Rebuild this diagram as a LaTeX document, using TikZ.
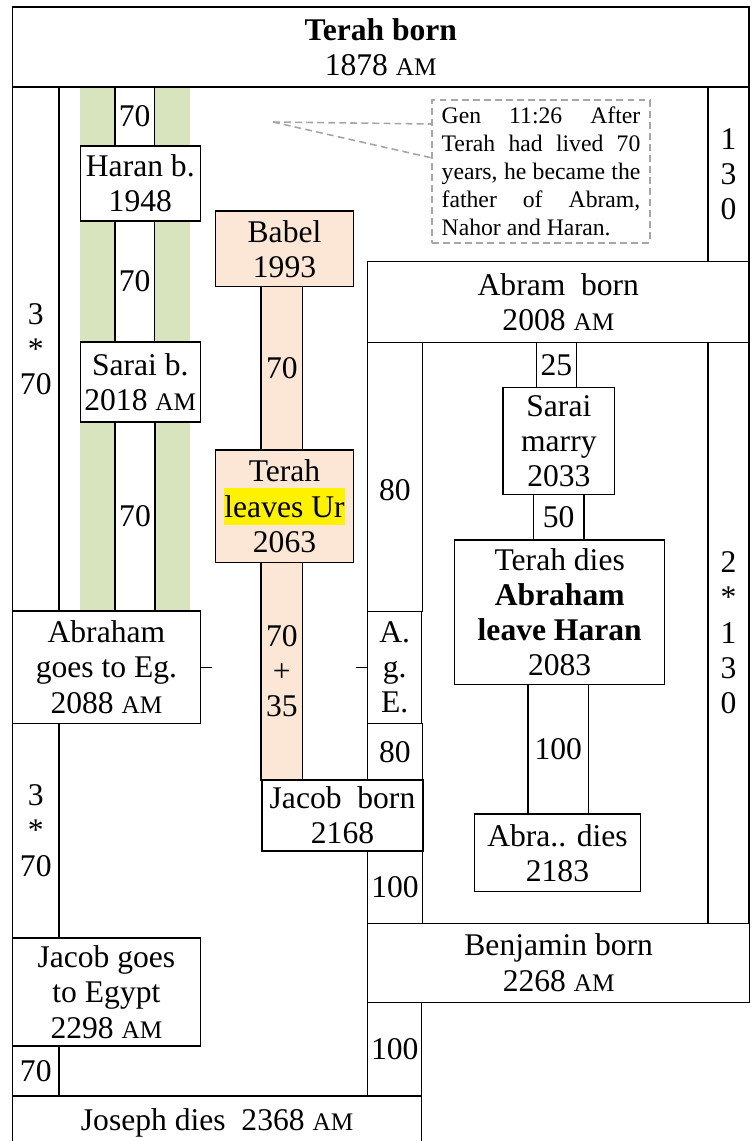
\documentclass[tikz,border=0pt]{standalone}
\usepackage{fontspec}
\setmainfont{Liberation Serif}
\usetikzlibrary{calc}
\definecolor{greenc}{HTML}{D7E4BD}
\definecolor{peachc}{HTML}{FCE6D6}
\definecolor{callgray}{HTML}{A6A6A6}
\newcommand\mainsz{\fontsize{12}{13.4}\selectfont}
\newcommand\notesz{\fontsize{9}{10.6}\selectfont}
\newcommand\smAM{{\fontsize{9.6}{10}\selectfont AM}}
\newcommand\hlt[1]{{\setlength\fboxsep{0pt}\smash{\colorbox{yellow}{\rule[-3pt]{0pt}{14pt}#1}}}}
\newcommand\cell[7]{\node[#6, minimum width={(#4-#2)*0.38pt}, minimum height={(#5-#3)*0.38pt}] (#1) at ({(#2+#4)/2},{(#3+#5)/2}) {#7};}
\tikzset{
  cellbox/.style={draw=black, line width=0.5pt, inner sep=0pt, outer sep=0pt, align=center, font=\mainsz},
  wcell/.style={cellbox, fill=white},
  pcell/.style={cellbox, fill=peachc},
  callline/.style={draw=callgray, dash pattern=on 2.6pt off 1.6pt, line width=0.6pt},
  annot/.style={callline, fill=white, text width=75.5pt, align=justify, inner xsep=3.6pt, inner ysep=0pt, outer sep=0pt, font=\notesz},
  tick/.style={draw=black, line width=0.5pt}
}
\begin{document}
\begin{tikzpicture}[x=0.38pt, y=-0.38pt]
\useasboundingbox (0,0) rectangle (756,1141);
% green band
\fill[greenc] (80,87) rectangle (190,611);
% top
\cell{terah}{12.5}{7}{749}{87}{wcell}{\textbf{Terah born}\\1878 \smAM}
% left columns
\cell{lcolA}{12.5}{87}{59}{611}{wcell}{3\\*\\70}
\cell{gA}{115}{87}{154.5}{146}{wcell}{70}
\cell{haran}{80.3}{146}{200.3}{221}{wcell}{Haran b.\\1948}
\cell{gB}{115}{221}{154.5}{342}{wcell}{70}
\cell{sarai}{80.3}{342}{200.3}{422}{wcell}{Sarai b.\\2018 \smAM}
\cell{gC}{115}{422}{155}{611}{wcell}{70}
\cell{abrEg}{12.5}{611}{200.3}{723.3}{wcell}{Abraham\\goes to Eg.\\2088 \smAM}
\cell{lcolB}{12.5}{723.3}{59}{938}{wcell}{3\\*\\70}
\cell{jacobEg}{12.5}{938}{200.3}{1046}{wcell}{Jacob goes\\to Egypt\\2298 \smAM}
\cell{lcolC}{12.5}{1046}{59}{1096}{wcell}{70}
\cell{joseph}{12.5}{1096}{421.7}{1150}{wcell}{Joseph dies\ \ 2368 \smAM}
% middle peach
\cell{babel}{215.7}{211}{353.3}{286.7}{pcell}{Babel\\1993}
\cell{pA}{261}{286.7}{302.7}{450}{pcell}{70}
\cell{terahUr}{215.7}{450}{353.3}{562.7}{pcell}{Terah\\\hlt{leaves Ur}\\2063}
\cell{pB}{261}{562.7}{302.7}{780}{pcell}{70\\+\\35}
\cell{jacobB}{262}{780}{423}{851}{wcell}{Jacob\ \ born\\2168}
\cell{hA}{367.7}{851}{422.3}{923.3}{wcell}{100}
\cell{benj}{367.7}{923.3}{749.7}{1002.3}{wcell}{Benjamin born\\2268 \smAM}
\cell{hB}{367.7}{1002.3}{421.7}{1096}{wcell}{100}
% right side
\cell{rcolA}{708}{87}{749}{261.7}{wcell}{1\\3\\0}
\cell{abram}{367.7}{261.7}{749}{342.3}{wcell}{Abram\ \ born\\2008 \smAM}
\cell{eA}{367.7}{342.3}{422.3}{611.7}{wcell}{\raisebox{-5pt}[8pt][0pt]{80}}
\cell{age}{367.7}{611.7}{421.7}{723.3}{wcell}{A.\\g.\\E.}
\cell{eB}{367.7}{723.3}{422.3}{780}{wcell}{80}
\cell{rcolB}{708}{342.3}{749}{923.3}{wcell}{2\\*\\1\\3\\0}
\cell{c25}{536.3}{342.3}{576.3}{387.7}{wcell}{25}
\cell{saraiM}{503}{387.7}{614.7}{494.3}{wcell}{Sarai\\marry\\2033}
\cell{c50}{533.3}{494.3}{584}{540}{wcell}{50}
\cell{terahD}{454.7}{540}{664.7}{684.3}{wcell}{Terah dies\\\textbf{Abraham}\\\textbf{leave Haran}\\2083}
\cell{c100}{528}{684.3}{588.7}{814}{wcell}{100}
\cell{abraD}{474.7}{814}{640.3}{891.7}{wcell}{Abra.. dies\\2183}
% annotation
\node[annot, minimum height={142.7*0.38pt}] (note) at (541,171.35)
  {Gen 11:26 After\linebreak Terah had lived 70\linebreak years, he became the\linebreak father of Abram,\linebreak Nahor and Haran.};
\coordinate (apex) at (273,122);
\draw[callline] (apex) -- ($(note.north west)+(0,24)$);
\draw[callline] (apex) -- ($(note.north west)+(0,58)$);
% ticks
\draw[tick] (abrEg.east) -- ++(12,0);
\draw[tick] (age.west) -- ++(-12,0);
\end{tikzpicture}
\end{document}
